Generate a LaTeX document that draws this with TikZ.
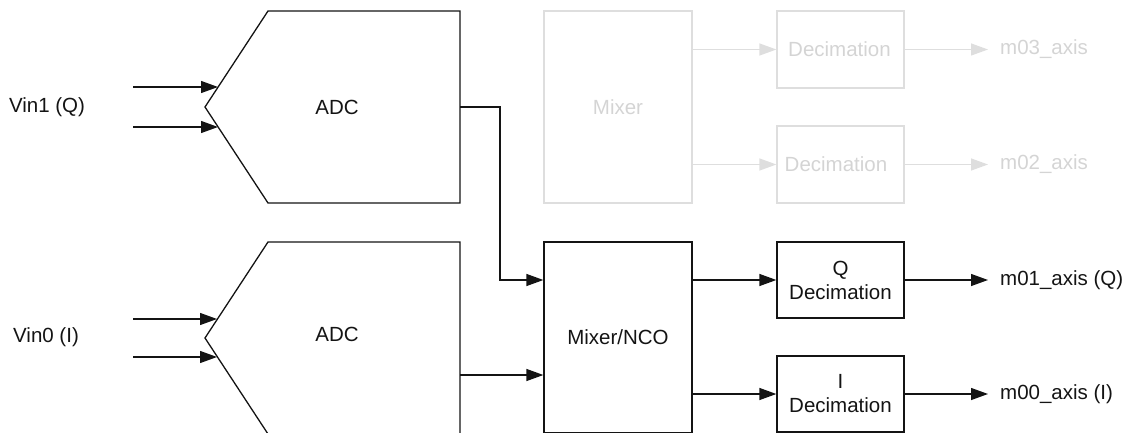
\documentclass[tikz,border=0pt]{standalone}
\usepackage{fontspec}
\setmainfont{Liberation Sans}
\usetikzlibrary{arrows.meta}
\definecolor{ink}{RGB}{20,20,20}
\definecolor{faint}{RGB}{222,222,222}
\definecolor{fainttext}{RGB}{212,212,212}
\begin{document}
\begin{tikzpicture}[x=1pt,y=-1pt,
  font=\fontsize{20.5}{24}\selectfont,
  line/.style={draw=ink, line width=1.3pt},
  arr/.style={line, -{Triangle[length=17pt,width=12pt]}},
  farr/.style={draw=faint, line width=1.3pt, -{Triangle[length=17pt,width=12pt]}},
  blk/.style={draw=ink, line width=1.3pt, rectangle, inner sep=0pt, text=ink, align=center},
  fblk/.style={draw=faint, line width=1.3pt, rectangle, inner sep=0pt, text=fainttext, align=center},
  ghost/.style={rectangle, inner sep=0pt, minimum width=255pt, minimum height=192pt},
  lbl/.style={text=ink, inner sep=0pt},
  flbl/.style={text=fainttext, inner sep=0pt}]
\useasboundingbox (0,0) rectangle (1130,433);
\clip (0,0) rectangle (1130,433);

% ADC shapes
\draw[line] (268,11) -- (460,11) -- (460,203) -- (268,203) -- (205,107) -- cycle;
\draw[line] (268,242) -- (460,242) -- (460,434) -- (268,434) -- (205,338) -- cycle;
\node[ghost] (adc1) at (332.5,107) {};
\node[ghost] (adc0) at (332.5,338) {};
\node[lbl] (adc1t) at (337,107) {ADC};
\node[lbl] (adc0t) at (337,334) {ADC};

% input labels
\node[lbl] (vin1) at (47,107) {Vin1 (Q)};
\node[lbl] (vin0) at (46,337) {Vin0 (I)};

% input arrows
\coordinate (i1a) at (133,87);  \coordinate (e1a) at (218,87);
\coordinate (i1b) at (133,127); \coordinate (e1b) at (218,127);
\coordinate (i0a) at (133,319); \coordinate (e0a) at (217,319);
\coordinate (i0b) at (133,357); \coordinate (e0b) at (217,357);
\draw[arr] (i1a) -- (e1a);
\draw[arr] (i1b) -- (e1b);
\draw[arr] (i0a) -- (e0a);
\draw[arr] (i0b) -- (e0b);

% faint upper chain
\node[fblk, minimum width=148pt, minimum height=192pt] (mix) at (618,107) {Mixer};
\node[fblk, minimum width=127pt, minimum height=77pt] (dec3) at (840.5,49.5) {\hspace*{-2pt}Decimation};
\node[fblk, minimum width=127pt, minimum height=77pt] (dec2) at (840.5,164.5) {\hspace*{-9pt}Decimation};
\node[flbl, anchor=west] (m03) at (1000,49.5) {m03\_axis};
\node[flbl, anchor=west] (m02) at (1000,164.5) {m02\_axis};
\draw[farr] (mix.east |- dec3.west) -- (dec3.west);
\draw[farr] (mix.east |- dec2.west) -- (dec2.west);
\coordinate (m03e) at (988,49.5);
\coordinate (m02e) at (988,164.5);
\draw[farr] (dec3.east) -- (m03e);
\draw[farr] (dec2.east) -- (m02e);

% main lower chain
\node[blk, minimum width=148pt, minimum height=191pt] (nco) at (618,337.5) {Mixer/NCO};
\node[blk, minimum width=127pt, minimum height=76pt] (qdec) at (840.5,280) {Q\\Decimation};
\node[blk, minimum width=127pt, minimum height=76pt] (idec) at (840.5,394) {I\\Decimation};
\node[lbl, anchor=west] (m01) at (1000,280) {m01\_axis (Q)};
\node[lbl, anchor=west] (m00) at (1000,394) {m00\_axis (I)};

\coordinate (bend) at (500,107);
\draw[arr] (adc1.east) -- (bend) -- (bend |- qdec.west) -- (nco.west |- qdec.west);
\coordinate (adc0out) at (460,375);
\draw[arr] (adc0out) -- (adc0out -| nco.west);
\draw[arr] (nco.east |- qdec.west) -- (qdec.west);
\draw[arr] (nco.east |- idec.west) -- (idec.west);
\coordinate (m01e) at (988,280);
\coordinate (m00e) at (988,394);
\draw[arr] (qdec.east) -- (m01e);
\draw[arr] (idec.east) -- (m00e);
\end{tikzpicture}
\end{document}
